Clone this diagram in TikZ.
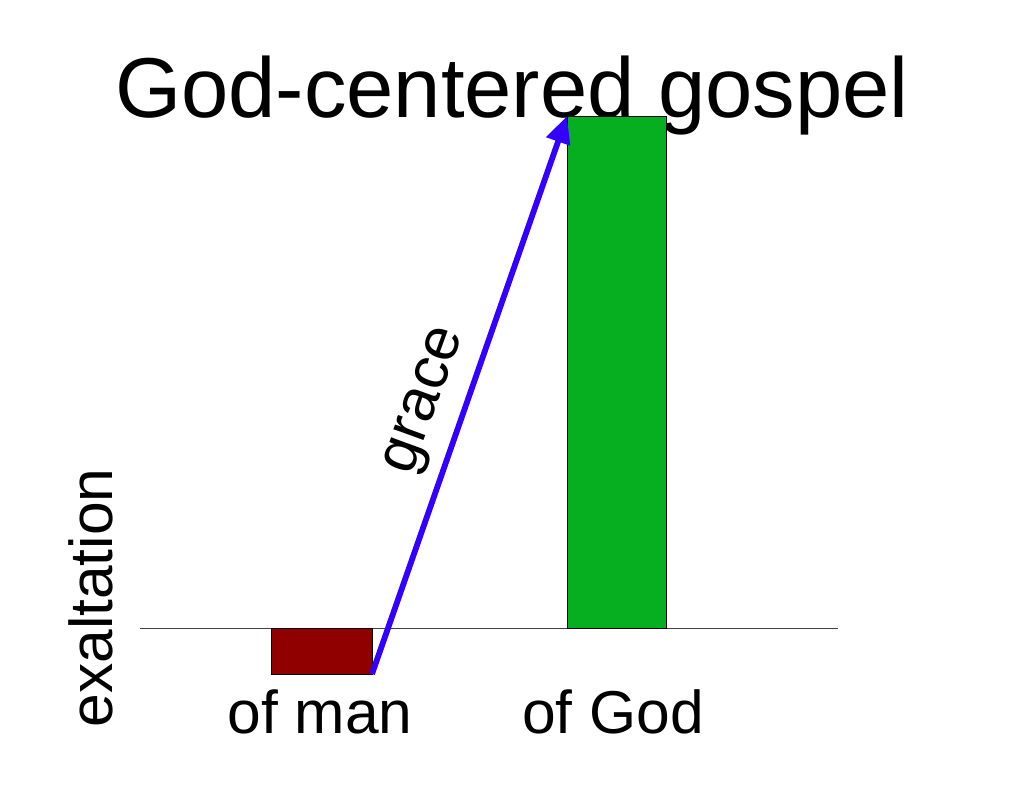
\documentclass[tikz,border=0pt]{standalone}
\usepackage{fontspec}
\setmainfont{Liberation Sans}
\usetikzlibrary{arrows.meta}
\definecolor{barred}{RGB}{144,0,0}
\definecolor{bargreen}{RGB}{5,175,31}
\definecolor{arrowblue}{RGB}{51,0,255}
\begin{document}
\begin{tikzpicture}[x=1pt,y=-1pt,
  bar/.style={draw=black,line width=0.8pt,inner sep=0pt,outer sep=0pt},
  lbl/.style={font=\fontsize{60.5}{60}\selectfont,inner sep=0pt,anchor=base},
  gracearrow/.style={draw=arrowblue,line width=5.8pt,-{Triangle[length=27pt,width=24pt]}}]
\useasboundingbox (0,0) rectangle (1024,791);
\fill[white] (0,0) rectangle (1024,791);
\node[font=\fontsize{85}{85}\selectfont,inner sep=0pt,anchor=base] (title) at (512,118) {God-centered gospel};
\coordinate (axisL) at (140,628);
\coordinate (axisR) at (838,628);
\draw[line width=1pt,black!75] (axisL) -- (axisR);
\node[bar,fill=barred,minimum width=101pt,minimum height=46pt,anchor=north west] (man) at (271,628) {};
\node[bar,fill=bargreen,minimum width=99pt,minimum height=512pt,anchor=south west] (god) at (567,628) {};
\draw[gracearrow] (man.south east) -- (god.north west);
\node[lbl] (ofman) at (320,733) {of man};
\node[lbl] (ofgod) at (613,733) {of God};
\node[lbl,rotate=90] (exalt) at (112,598) {exaltation};
\node[lbl,rotate=70] (grace) at (437,405) {grace};
\end{tikzpicture}
\end{document}
